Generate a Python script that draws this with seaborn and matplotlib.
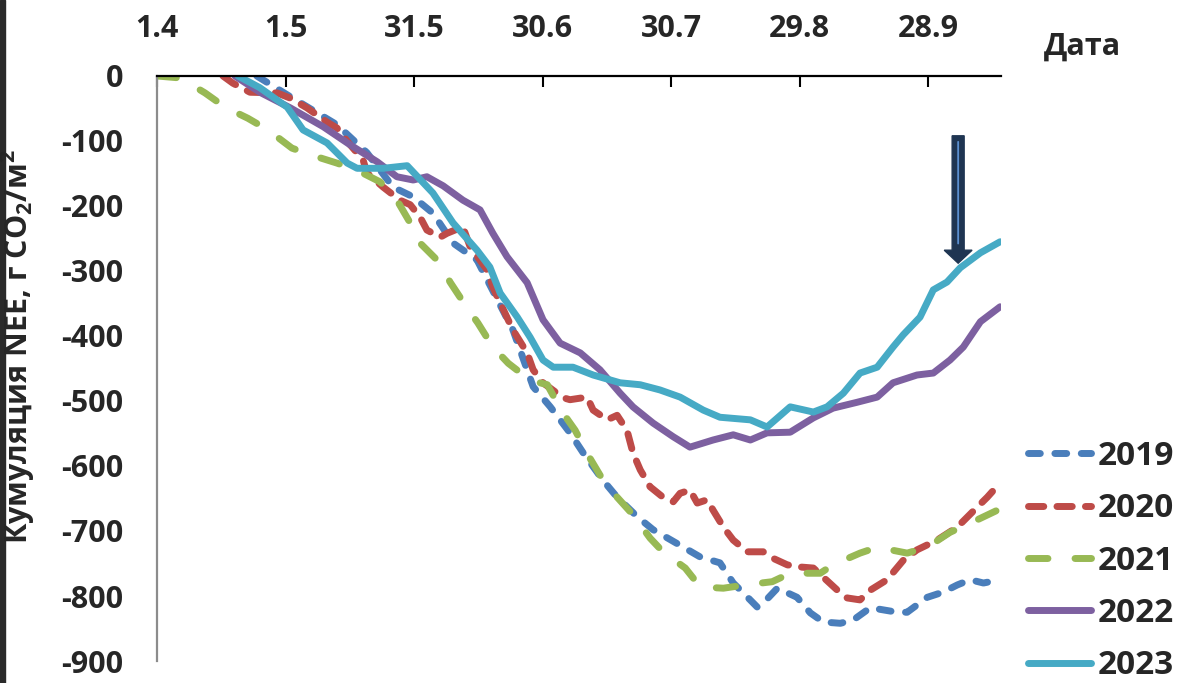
import numpy as np
import pandas as pd
import matplotlib
matplotlib.use('Agg')
import matplotlib.pyplot as plt
import seaborn as sns
from matplotlib.patches import FancyArrow, Rectangle

# days counted from 1 April, cumulative NEE (g CO2/m2)
days_2019 = [23.3, 30.4, 42.0, 49.0, 55.1, 59.8, 64.4, 69.1, 74.7, 83.1, 87.8, 91.8, 96.4, 99.5,
             104.1, 107.4, 112.1, 115.8, 122.1, 126.8, 131.4, 134.5, 136.8, 140.1, 141.5, 144.8,
             149.4, 152.5, 155.5, 159.5, 162.5, 166.5, 172.8, 175.1, 179.8, 183.5, 186.8, 189.8,
             192.9, 196.8]
nee_2019 = [0, -29, -75, -118, -171, -186, -211, -257, -283, -391, -478, -509, -549, -580,
            -622, -648, -678, -698, -722, -740, -749, -780, -795, -817, -811, -788,
            -802, -826, -840, -842, -837, -818, -825, -825, -802, -794, -783, -775,
            -780, -775]

days_2020 = [15.4, 17.7, 21.7, 28.0, 31.1, 35.0, 39.7, 42.0, 45.1, 48.1, 49.0, 52.8, 56.7, 59.1,
             61.4, 63.0, 66.1, 67.7, 71.4, 73.1, 77.0, 78.4, 80.1, 83.1, 86.4, 87.8, 90.1, 94.8,
             96.4, 100.4, 101.8, 105.1, 107.4, 109.7, 111.1, 112.8, 115.1, 118.1, 120.5, 122.1,
             124.4, 126.1, 128.4, 129.8, 132.2, 134.5, 137.8, 141.5, 143.8, 147.1, 149.4, 153.2,
             155.5, 158.8, 161.1, 164.1, 166.5, 170.4, 174.2, 177.4, 182.1, 186.8, 191.5, 193.8,
             196.8]
nee_2020 = [0, -11, -25, -26, -34, -49, -71, -80, -106, -129, -149, -171, -191, -198,
            -217, -237, -248, -242, -232, -263, -298, -325, -349, -391, -426, -452, -472, -495,
            -498, -494, -514, -529, -522, -545, -580, -606, -632, -648, -655, -642,
            -637, -657, -652, -668, -694, -714, -732, -732, -742, -752, -755, -757,
            -771, -791, -803, -806, -791, -775, -745, -729, -714, -694, -663, -648,
            -626]

days_2021 = [0.0, 5.4, 11.2, 15.9, 21.2, 25.9, 31.5, 36.2, 42.0, 46.7, 52.1, 56.0, 59.1, 61.4,
             66.1, 68.4, 72.4, 74.9, 78.4, 82.0, 87.1, 91.1, 94.6, 97.6, 100.6, 103.4, 107.4,
             111.1, 115.1, 118.1, 123.3, 126.8, 132.2, 137.3, 143.6, 147.8, 154.8, 157.8, 164.1,
             168.1, 175.1, 179.8, 185.1, 189.8, 196.8]
nee_2021 = [0, -3, -26, -48, -65, -83, -111, -122, -134, -145, -163, -191, -226, -257,
            -288, -317, -357, -380, -417, -442, -468, -475, -517, -545, -583, -614, -648,
            -675, -711, -732, -757, -786, -788, -783, -778, -765, -765, -752, -734,
            -725, -734, -725, -702, -688, -666]

days_2022 = [18.2, 24.0, 31.1, 38.8, 45.1, 51.4, 56.0, 59.8, 63.0, 66.8, 71.4, 75.4, 78.4, 81.7,
             86.4, 90.1, 94.1, 98.8, 103.4, 108.1, 111.1, 115.8, 120.5, 124.4, 129.8, 134.5,
             138.5, 142.4, 147.8, 153.2, 157.8, 163.4, 168.1, 171.8, 177.4, 181.2, 185.1, 188.2,
             192.2, 196.8]
nee_2022 = [0, -25, -49, -78, -106, -132, -155, -160, -155, -169, -191, -206, -242, -278,
            -318, -375, -411, -426, -452, -488, -509, -534, -555, -571, -560, -552,
            -560, -549, -548, -526, -511, -502, -494, -472, -460, -457, -437, -417,
            -378, -355]

days_2023 = [18.9, 24.0, 30.4, 34.1, 39.7, 44.4, 46.7, 52.8, 58.4, 64.4, 69.1, 74.7, 77.7, 80.1,
             84.1, 87.1, 90.1, 92.5, 97.1, 101.8, 108.1, 112.8, 117.4, 122.1, 127.5, 131.4,
             138.5, 142.4, 147.8, 153.2, 156.4, 160.2, 164.1, 168.1, 171.8, 174.2, 178.1, 181.2,
             184.4, 187.5, 192.2, 196.8]
nee_2023 = [0, -18, -48, -83, -103, -134, -142, -142, -138, -180, -226, -268, -294, -334,
            -371, -402, -437, -448, -448, -460, -472, -475, -483, -494, -514, -525,
            -529, -540, -509, -517, -509, -488, -457, -448, -417, -398, -371, -329,
            -317, -295, -272, -255]

years = ['2019', '2020', '2021', '2022', '2023']
series_days = [days_2019, days_2020, days_2021, days_2022, days_2023]
series_nee = [nee_2019, nee_2020, nee_2021, nee_2022, nee_2023]
colors = ['#4A7EBB', '#BE4B48', '#98B954', '#7D60A0', '#46AAC5']
styles = [(0, (1.7, 2.1)), (0, (2.2, 1.9)), (0, (2.8, 3.9)), '-', '-']

tick_days = [0, 30, 60, 90, 120, 150, 180]
tick_labels = ['1.4', '1.5', '31.5', '30.6', '30.7', '29.8', '28.9']
y_ticks = [0, -100, -200, -300, -400, -500, -600, -700, -800, -900]

sns.set_style('white')
plt.rcParams['font.family'] = ['Open Sans', 'DejaVu Sans']
plt.rcParams['font.weight'] = 'bold'
plt.rcParams['mathtext.default'] = 'regular'

fig = plt.figure(figsize=(11.88, 6.83), dpi=100)
ax = fig.add_axes([0.13215, 0.03221, 0.71044, 0.85652])

for year, d, v, c, ls in zip(years, series_days, series_nee, colors, styles):
    df = pd.DataFrame({'day': d, 'nee': v})
    sns.lineplot(data=df, x='day', y='nee', ax=ax, color=c, linestyle=ls, linewidth=5.0,
                 label=year, sort=False, estimator=None,
                 dash_capstyle='round', solid_capstyle='round', solid_joinstyle='round')

ax.set_xlim(0, 197)
ax.set_ylim(-900, 0)

# x axis on top with ticks pointing down
ax.xaxis.tick_top()
ax.set_xticks(tick_days)
ax.set_xticklabels(tick_labels, fontsize=22, fontweight='bold')
ax.tick_params(axis='x', direction='in', length=8, width=1.5, color='black', pad=23)
ax.set_yticks(y_ticks)
ax.set_yticklabels([str(t) for t in y_ticks], fontsize=22, fontweight='bold')
ax.tick_params(axis='y', direction='out', length=8.5, width=1.5, color='#8C8C8C', pad=16)
ax.set_xlabel('')

for s in ['right', 'bottom']:
    ax.spines[s].set_visible(False)
ax.spines['top'].set_color('black')
ax.spines['top'].set_linewidth(1.6)
ax.spines['left'].set_color('#8C8C8C')
ax.spines['left'].set_linewidth(1.6)

ax.set_ylabel('Кумуляция NEE, г CO$_2$/м$^2$', fontsize=22, fontweight='bold')
ax.yaxis.set_label_coords(-0.142, 0.537)

# arrow marking the 2023 curve
arrow = FancyArrow(187.0, -92, 0, -196, width=2.8, head_width=6.5, head_length=20,
                   length_includes_head=True, fc='#1F3552', ec='#1F3552', lw=1, zorder=5)
ax.add_patch(arrow)
ax.annotate('', xy=(187.0, -262), xytext=(187.0, -97),
            arrowprops=dict(arrowstyle='-', color='#5B8FD0', lw=1.3), zorder=6)

fig.text(1082 / 1188, 1 - 47 / 683, 'Дата', fontsize=22, fontweight='bold',
         ha='center', va='center')

handles, labels = ax.get_legend_handles_labels()
ax.get_legend().remove()
fig.legend(handles, labels, loc='upper left', bbox_to_anchor=(1028 / 1188, 1 - 440 / 683),
           frameon=False, handlelength=1.9, handletextpad=0.2,
           labelspacing=0.58, borderpad=0, borderaxespad=0, prop={'weight': 'bold', 'size': 24})

# dark strip at the very left edge of the original image
fig.add_artist(Rectangle((0, 0), 5 / 1188, 1, transform=fig.transFigure,
                         color='#2A2A2A', zorder=0))

fig.savefig('out.png', dpi=100)
